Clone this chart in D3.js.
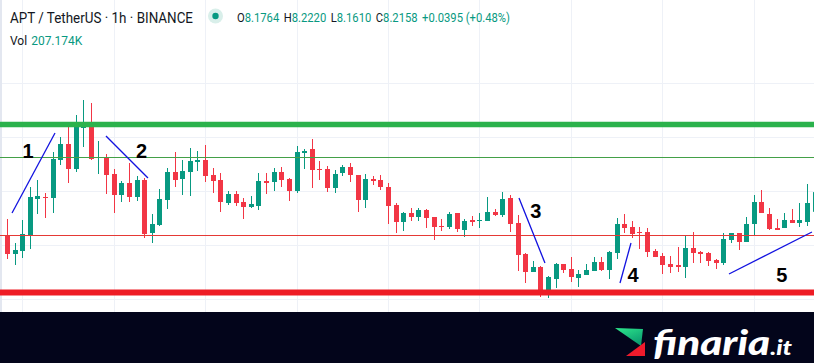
<!DOCTYPE html>
<html>
<head>
<meta charset="utf-8">
<script src="https://cdn.jsdelivr.net/npm/d3@7"></script>
<style>
  html, body { margin: 0; padding: 0; background: #fff; }
  svg { display: block; }
</style>
</head>
<body>
<svg id="chart" width="814" height="363"></svg>
<script>
// Candle data (APT/USDT, 1h)
const openP = [8.128, 8.092, 8.098, 8.130, 8.202, 8.206, 8.204, 8.280, 8.312, 8.262,
  8.344, 8.348, 8.284, 8.284, 8.252, 8.210, 8.234, 8.206, 8.240, 8.134,
  8.150, 8.200, 8.256, 8.242, 8.256, 8.276, 8.280, 8.250, 8.240, 8.194,
  8.212, 8.196, 8.186, 8.188, 8.238, 8.236, 8.256, 8.242, 8.218, 8.294,
  8.302, 8.262, 8.262, 8.224, 8.254, 8.266, 8.250, 8.200, 8.242, 8.240,
  8.226, 8.190, 8.156, 8.174, 8.166, 8.180, 8.166, 8.148, 8.146, 8.174,
  8.140, 8.160, 8.158, 8.158, 8.176, 8.170, 8.204, 8.154, 8.092, 8.056,
  8.066, 8.018, 8.042, 8.072, 8.062, 8.044, 8.050, 8.058, 8.076, 8.060,
  8.094, 8.152, 8.146, 8.136, 8.136, 8.098, 8.088, 8.072, 8.070, 8.066,
  8.104, 8.096, 8.094, 8.080, 8.074, 8.120, 8.134, 8.116, 8.152, 8.196,
  8.172, 8.144, 8.144, 8.160, 8.154, 8.156, 8.1764];
const highP = [8.162, 8.114, 8.160, 8.226, 8.240, 8.214, 8.296, 8.326, 8.352, 8.370,
  8.400, 8.394, 8.318, 8.292, 8.262, 8.238, 8.274, 8.248, 8.244, 8.172,
  8.222, 8.264, 8.296, 8.280, 8.304, 8.298, 8.310, 8.264, 8.254, 8.218,
  8.218, 8.204, 8.208, 8.254, 8.254, 8.264, 8.266, 8.244, 8.308, 8.302,
  8.322, 8.278, 8.268, 8.260, 8.270, 8.274, 8.250, 8.252, 8.248, 8.250,
  8.234, 8.194, 8.176, 8.184, 8.184, 8.182, 8.166, 8.162, 8.176, 8.174,
  8.162, 8.168, 8.174, 8.206, 8.182, 8.216, 8.210, 8.170, 8.094, 8.078,
  8.068, 8.048, 8.074, 8.072, 8.086, 8.060, 8.072, 8.086, 8.086, 8.098,
  8.164, 8.172, 8.158, 8.146, 8.144, 8.102, 8.094, 8.088, 8.106, 8.128,
  8.136, 8.098, 8.096, 8.082, 8.134, 8.134, 8.134, 8.166, 8.210, 8.220,
  8.184, 8.162, 8.174, 8.182, 8.194, 8.232, 8.2220];
const lowP = [8.082, 8.070, 8.084, 8.102, 8.172, 8.164, 8.174, 8.270, 8.234, 8.256,
  8.306, 8.280, 8.252, 8.212, 8.174, 8.196, 8.196, 8.198, 8.124, 8.114,
  8.148, 8.182, 8.226, 8.210, 8.208, 8.258, 8.236, 8.214, 8.176, 8.190,
  8.188, 8.162, 8.184, 8.180, 8.212, 8.218, 8.226, 8.198, 8.214, 8.262,
  8.224, 8.240, 8.216, 8.214, 8.248, 8.236, 8.176, 8.184, 8.230, 8.220,
  8.152, 8.134, 8.138, 8.158, 8.158, 8.144, 8.120, 8.138, 8.142, 8.136,
  8.126, 8.148, 8.144, 8.158, 8.168, 8.166, 8.136, 8.058, 8.034, 8.056,
  8.006, 8.004, 8.024, 8.054, 8.036, 8.026, 8.050, 8.058, 8.058, 8.042,
  8.082, 8.134, 8.124, 8.102, 8.086, 8.086, 8.052, 8.054, 8.056, 8.044,
  8.074, 8.074, 8.068, 8.062, 8.070, 8.114, 8.100, 8.116, 8.130, 8.174,
  8.140, 8.140, 8.144, 8.154, 8.146, 8.148, 8.1610];
const closeP = [8.092, 8.100, 8.132, 8.206, 8.208, 8.204, 8.282, 8.312, 8.262, 8.350,
  8.348, 8.282, 8.286, 8.250, 8.210, 8.234, 8.206, 8.240, 8.132, 8.152,
  8.202, 8.256, 8.240, 8.258, 8.278, 8.280, 8.248, 8.238, 8.196, 8.212,
  8.194, 8.186, 8.192, 8.238, 8.234, 8.256, 8.240, 8.218, 8.296, 8.298,
  8.260, 8.260, 8.224, 8.252, 8.266, 8.250, 8.200, 8.242, 8.238, 8.226,
  8.188, 8.156, 8.174, 8.166, 8.180, 8.164, 8.146, 8.146, 8.172, 8.142,
  8.158, 8.156, 8.160, 8.176, 8.170, 8.202, 8.152, 8.090, 8.056, 8.066,
  8.016, 8.046, 8.072, 8.060, 8.046, 8.052, 8.060, 8.076, 8.060, 8.096,
  8.152, 8.144, 8.132, 8.134, 8.096, 8.086, 8.070, 8.066, 8.066, 8.104,
  8.094, 8.092, 8.078, 8.074, 8.122, 8.134, 8.116, 8.152, 8.196, 8.174,
  8.142, 8.140, 8.160, 8.154, 8.160, 8.194, 8.2158];

// Grid: vertical lines every 12 candles, horizontal price lines
const gridIdx = [2, 14, 26, 38, 50, 62, 74, 86, 98];
const gridPrices = [8.002, 8.110, 8.218, 8.326, 8.434];

// Drawn support / resistance levels
const levelPrices = [8.351, 8.286, 8.130, 8.015];
const levelColors = ["#2bb24c", "#43a047", "#e53935", "#ee1c25"];
const levelWidths = [5.5, 1, 1, 6];

// Trend lines [idx1, price1, idx2, price2] and their labels
const trendLines = [
  [0.66, 8.174, 6.30, 8.334],
  [12.99, 8.328, 18.5, 8.244],
  [67.19, 8.204, 70.6, 8.074],
  [80.45, 8.034, 81.89, 8.114],
  [94.75, 8.052, 105.64, 8.136]
];
const labelText = ["1", "2", "3", "4", "5"];
const labelIdx = [2.76, 17.65, 69.4, 82.15, 101.7];
const labelPrice = [8.284, 8.284, 8.164, 8.036, 8.036];

const candles = openP.map((o, i) => ({ i: i, o: o, h: highP[i], l: lowP[i], c: closeP[i] }));

const svg = d3.select("#chart");
const W = 814, H = 363, bandTop = 312;

// Scales
const x = d3.scaleLinear().domain([0, 106]).range([7, 814.7]);
const y = d3.scaleLinear().domain([8.6, 8.0]).range([0, 300]);

svg.append("rect").attr("width", W).attr("height", H).attr("fill", "#fff");

// Grid lines
svg.append("g").selectAll("line").data(gridIdx).join("line")
  .attr("x1", d => Math.round(x(d)) + 0.5).attr("x2", d => Math.round(x(d)) + 0.5)
  .attr("y1", 0).attr("y2", bandTop)
  .attr("stroke", "#eef1f7");
svg.append("g").selectAll("line").data(gridPrices).join("line")
  .attr("x1", 0).attr("x2", W)
  .attr("y1", d => Math.round(y(d)) + 0.5).attr("y2", d => Math.round(y(d)) + 0.5)
  .attr("stroke", "#eef1f7");

// left edge strip
svg.append("rect").attr("x", 0).attr("y", 0).attr("width", 2).attr("height", bandTop).attr("fill", "#e3e7f0");

// Candles
const up = "#089981", down = "#f23645";
const cg = svg.append("g");
cg.selectAll("line").data(candles).join("line")
  .attr("x1", d => Math.round(x(d.i)) + 0.5).attr("x2", d => Math.round(x(d.i)) + 0.5)
  .attr("y1", d => y(d.h)).attr("y2", d => y(d.l))
  .attr("stroke", d => d.c >= d.o ? up : down)
  .attr("stroke-width", 1);
cg.selectAll("rect").data(candles).join("rect")
  .attr("x", d => Math.round(x(d.i)) - 2)
  .attr("width", 5)
  .attr("y", d => y(Math.max(d.o, d.c)))
  .attr("height", d => Math.max(1, Math.abs(y(d.o) - y(d.c))))
  .attr("fill", d => d.c >= d.o ? up : down);

// Horizontal levels (thin ones snapped to the pixel grid)
svg.append("g").selectAll("line").data(levelPrices).join("line")
  .attr("x1", 0).attr("x2", W)
  .attr("y1", (d, i) => levelWidths[i] > 1 ? y(d) : Math.round(y(d)) + 0.5)
  .attr("y2", (d, i) => levelWidths[i] > 1 ? y(d) : Math.round(y(d)) + 0.5)
  .attr("stroke", (d, i) => levelColors[i])
  .attr("stroke-width", (d, i) => levelWidths[i]);

// Trend lines
svg.append("g").selectAll("line").data(trendLines).join("line")
  .attr("x1", d => x(d[0])).attr("y1", d => y(d[1]))
  .attr("x2", d => x(d[2])).attr("y2", d => y(d[3]))
  .attr("stroke", "#1212e0")
  .attr("stroke-width", 1.3);

// Wave labels
svg.append("g").selectAll("text").data(labelText).join("text")
  .attr("x", (d, i) => x(labelIdx[i]))
  .attr("y", (d, i) => y(labelPrice[i]))
  .attr("text-anchor", "middle")
  .attr("font-family", "Liberation Sans, Arial, sans-serif")
  .attr("font-weight", "bold")
  .attr("font-size", 20)
  .attr("fill", "#000")
  .text(d => d);

// Header legend
const font = "Roboto, 'Open Sans', sans-serif";
svg.append("text").attr("x", 10).attr("y", 23)
  .attr("font-family", font).attr("font-size", 14.5).attr("fill", "#131722")
  .attr("textLength", 183).attr("lengthAdjust", "spacingAndGlyphs")
  .text("APT / TetherUS · 1h · BINANCE");
svg.append("circle").attr("cx", 215.5).attr("cy", 16).attr("r", 7.5).attr("fill", "#d9efea");
svg.append("circle").attr("cx", 215.5).attr("cy", 16).attr("r", 3.2).attr("fill", "#089981");

const ohlc = [["O", "8.1764"], ["H", "8.2220"], ["L", "8.1610"], ["C", "8.2158"]];
const leg = svg.append("text").attr("x", 237).attr("y", 22)
  .attr("font-family", font).attr("font-size", 12.5)
  .attr("textLength", 273).attr("lengthAdjust", "spacingAndGlyphs");
ohlc.forEach((p, i) => {
  leg.append("tspan").attr("fill", "#131722").attr("dx", i ? 5 : 0).text(p[0]);
  leg.append("tspan").attr("fill", "#089981").text(p[1]);
});
leg.append("tspan").attr("fill", "#089981").attr("dx", 5).text("+0.0395 (+0.48%)");

const vol = svg.append("text").attr("x", 10).attr("y", 45)
  .attr("font-family", font).attr("font-size", 12);
vol.append("tspan").attr("fill", "#131722").text("Vol");
vol.append("tspan").attr("fill", "#089981").attr("dx", 4).text("207.174K");

// Bottom band with logo
svg.append("rect").attr("x", 0).attr("y", bandTop).attr("width", W).attr("height", H - bandTop).attr("fill", "#03051b");
const defs = svg.append("defs");
const gr = defs.append("linearGradient").attr("id", "lg").attr("x1", 0).attr("y1", 0).attr("x2", 0.6).attr("y2", 1);
gr.append("stop").attr("offset", 0).attr("stop-color", "#2ee88c");
gr.append("stop").attr("offset", 1).attr("stop-color", "#0b9c70");
svg.append("polygon").attr("points", "615,328 643,329 641,346").attr("fill", "url(#lg)");
svg.append("polygon").attr("points", "626,356 645,356 645,342").attr("fill", "#ef1b2c");
const logo = svg.append("text").attr("x", 653).attr("y", 355)
  .attr("font-family", "Lato, sans-serif").attr("font-weight", 900)
  .attr("font-style", "italic").attr("fill", "#fff")
  .attr("textLength", 139).attr("lengthAdjust", "spacingAndGlyphs");
logo.append("tspan").attr("font-size", 35).text("finaria");
logo.append("tspan").attr("font-size", 21).text(".it");
</script>
</body>
</html>
